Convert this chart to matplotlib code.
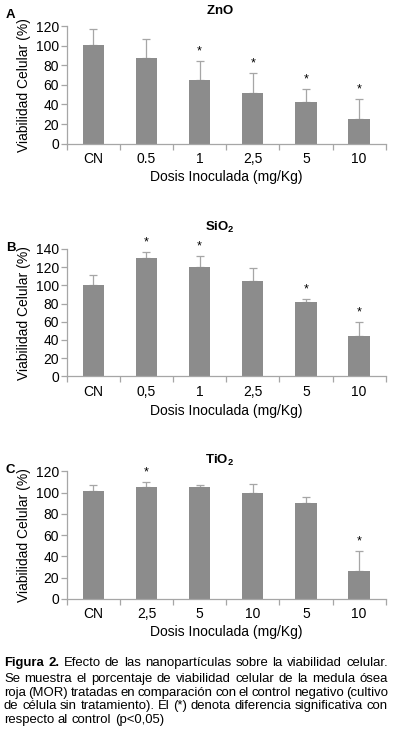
import matplotlib
matplotlib.use("Agg")
import matplotlib.pyplot as plt
import numpy as np

plt.rcParams['font.family'] = ['Liberation Sans', 'DejaVu Sans']
plt.rcParams['mathtext.fontset'] = 'custom'
plt.rcParams['mathtext.rm'] = 'Liberation Sans'
plt.rcParams['mathtext.bf'] = 'Liberation Sans:bold'

# ---- data ----
zno_labels = ["CN", "0.5", "1", "2,5", "5", "10"]
zno_values = [100.5, 87.4, 65.0, 51.7, 42.5, 25.2]
zno_err = [16.0, 19.0, 19.0, 20.0, 13.0, 20.0]
zno_sig = [False, False, True, True, True, True]

sio2_labels = ["CN", "0,5", "1", "2,5", "5", "10"]
sio2_values = [100.1, 130.1, 120.2, 104.8, 81.8, 44.3]
sio2_err = [11.3, 6.6, 12.5, 14.0, 3.2, 15.7]
sio2_sig = [False, True, True, False, True, True]

tio2_labels = ["CN", "2,5", "5", "10", "5", "10"]
tio2_values = [101.5, 105.3, 105.3, 99.6, 90.2, 26.3]
tio2_err = [5.9, 4.9, 1.5, 8.4, 5.4, 18.5]
tio2_sig = [False, True, False, False, False, True]

panels = [
    ("A", r"$\mathbf{ZnO}$", zno_labels, zno_values, zno_err, zno_sig, 120, 20),
    ("B", r"$\mathbf{SiO_2}$", sio2_labels, sio2_values, sio2_err, sio2_sig, 140, 20),
    ("C", r"$\mathbf{TiO_2}$", tio2_labels, tio2_values, tio2_err, tio2_sig, 120, 20),
]

W, H = 393, 737
fig = plt.figure(figsize=(W / 100, H / 100), dpi=100)

# axes boxes in pixel coordinates: (left, top, right, bottom)
boxes = [(66.7, 26.0, 385.7, 143.7), (66.7, 249.0, 385.7, 376.3), (66.7, 471.3, 385.7, 599.0)]
title_y = [10, 227, 460]
letter_xy = [(10, 15), (11, 248), (10, 470)]
xlabel_y = [177, 411, 632]

bar_color = "#8c8c8c"
axis_color = "#a6a6a6"
fs = 10

for i, (letter, title, labels, vals, errs, sig, ymax, ystep) in enumerate(panels):
    l, t, r, b = boxes[i]
    ax = fig.add_axes([l / W, 1 - b / H, (r - l) / W, (b - t) / H])
    x = np.arange(len(labels))
    ax.bar(x, vals, width=0.4, color=bar_color, zorder=2)
    ax.errorbar(x, vals, yerr=[np.zeros(len(vals)), errs], fmt='none',
                ecolor=axis_color, elinewidth=0.9, capsize=3, capthick=0.9, zorder=1)
    for xi, v, e, s in zip(x, vals, errs, sig):
        if s:
            ax.annotate("*", (xi, v + e), xytext=(0, 2.5), textcoords="offset points",
                        ha="center", va="bottom", fontsize=9)
    ax.set_xlim(-0.5, len(labels) - 0.5)
    ax.set_ylim(0, ymax)
    ax.set_yticks(np.arange(0, ymax + 1, ystep))
    ax.set_xticks(x)
    ax.set_xticklabels(labels, fontsize=fs)
    ax.set_xticks(np.arange(-0.5, len(labels), 1.0), minor=True)
    ax.tick_params(axis="x", which="major", length=0, pad=6)
    ax.tick_params(axis="x", which="minor", length=4, color=axis_color, width=0.9)
    ax.tick_params(axis="y", length=4, color=axis_color, width=0.9, labelsize=fs, pad=1.5)
    for sp in ["top", "right"]:
        ax.spines[sp].set_visible(False)
    for sp in ["left", "bottom"]:
        ax.spines[sp].set_color(axis_color)
        ax.spines[sp].set_linewidth(0.9)
    ax.set_ylabel("Viabilidad Celular (%)", fontsize=fs)
    ax.yaxis.set_label_coords((31.5 - l) / (r - l), 0.5)
    fig.text(220 / W, 1 - title_y[i] / H, title, ha="center", va="center", fontsize=9.5)
    fig.text(letter_xy[i][0] / W, 1 - letter_xy[i][1] / H, letter, ha="center", va="center",
             fontsize=9.5, fontweight="bold")
    fig.text(226 / W, 1 - xlabel_y[i] / H, "Dosis Inoculada (mg/Kg)", ha="center",
             va="center", fontsize=fs)

# ---- caption (justified) ----
caption_lines = [
    [("Figura 2.", "bold"), ("Efecto de las nanopartículas sobre la viabilidad celular.", "normal")],
    [("Se muestra el porcentaje de viabilidad celular de la medula ósea", "normal")],
    [("roja (MOR) tratadas en comparación con el control negativo (cultivo", "normal")],
    [("de célula sin tratamiento). El (*) denota diferencia significativa con", "normal")],
    [("respecto al control (p<0,05)", "normal")],
]
cap_y = [663, 679, 693, 706, 720]
cap_left, cap_right = 4, 388

fig.canvas.draw()
renderer = fig.canvas.get_renderer()

# choose caption size so the last (unjustified) line has its reference width
probe = fig.text(0, 0, "respecto al control (p<0,05)", fontsize=10)
w10 = probe.get_window_extent(renderer).width
probe.remove()
cap_fs = 10 * 161.0 / w10

for li, segs in enumerate(caption_lines):
    words = []
    for txt, wt in segs:
        for w in txt.split(" "):
            words.append((w, wt))
    ypos = 1 - cap_y[li] / H
    objs = []
    widths = []
    for w, wt in words:
        tobj = fig.text(0, ypos, w, fontsize=cap_fs, fontweight=wt, ha="left", va="center")
        objs.append(tobj)
        widths.append(tobj.get_window_extent(renderer).width)
    sp = fig.text(0, 0, "a a", fontsize=cap_fs)
    sa = fig.text(0, 0, "aa", fontsize=cap_fs)
    space_w = sp.get_window_extent(renderer).width - sa.get_window_extent(renderer).width
    sp.remove(); sa.remove()
    if li < len(caption_lines) - 1:
        gap = (cap_right - cap_left - sum(widths)) / (len(words) - 1)
        gap = max(gap, space_w * 0.6)
    else:
        gap = space_w
    xcur = cap_left
    for tobj, wdt in zip(objs, widths):
        tobj.set_x(xcur / W)
        xcur += wdt + gap

fig.savefig("out.png", dpi=100)
